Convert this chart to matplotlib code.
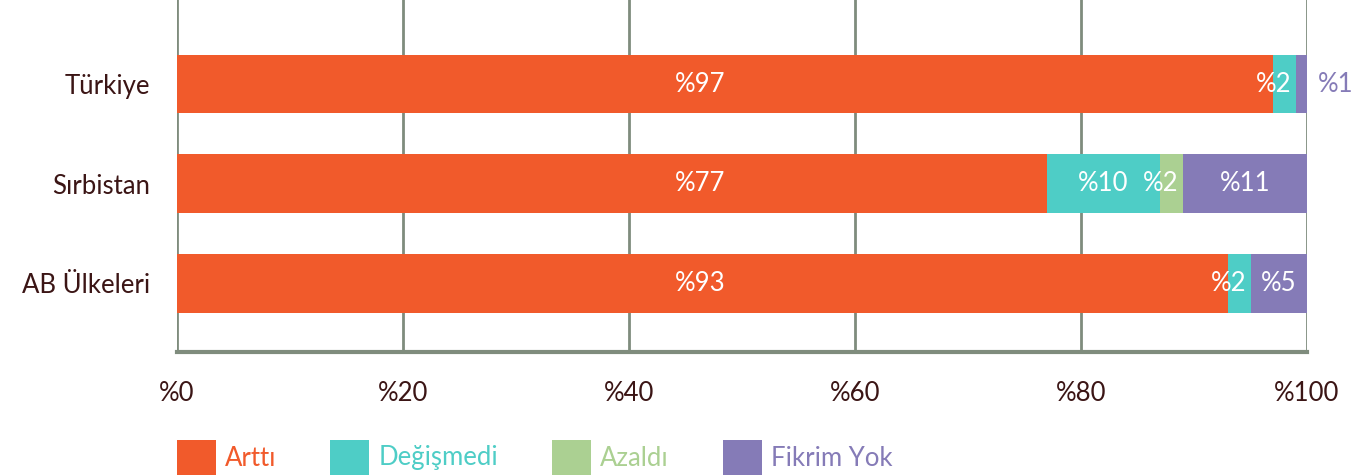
import matplotlib.pyplot as plt
from matplotlib.patches import Rectangle
import numpy as np

plt.rcParams["font.family"] = ["Lato", "DejaVu Sans"]

countries = ["Türkiye", "Sırbistan", "AB Ülkeleri"]
series = ["Arttı", "Değişmedi", "Azaldı", "Fikrim Yok"]
arttı = [97, 77, 93]
degismedi = [2, 10, 2]
azaldi = [0, 2, 0]
fikrim_yok = [1, 11, 5]
tick_vals = [0, 20, 40, 60, 80, 100]
tick_labels = ["%0", "%20", "%40", "%60", "%80", "%100"]

colors = ["#F15A2B", "#4ECDC6", "#ABD092", "#857BB7"]
text_dark = "#3B1515"
grid_col = "#7F8C7D"
FS = 18.5
W, H = 1365, 475

values = [arttı, degismedi, azaldi, fikrim_yok]

fig = plt.figure(figsize=(W / 100, H / 100), dpi=100)
ax = fig.add_axes([177 / W, 1 - 352 / H, 1130 / W, 352 / H])

y = np.arange(len(countries))
left = np.zeros(len(countries))
for k, (name, vals, col) in enumerate(zip(series, values, colors)):
    vals = np.array(vals, dtype=float)
    ax.barh(y, vals, left=left, height=0.59, color=col, zorder=3, label=name)
    for yi, l, v in zip(y, left, vals):
        if v == 0:
            continue
        if k == 0:
            # first-segment labels sit at one common x in the source
            ax.text(46.3, yi, f"%{int(v)}", ha="center", va="center",
                    color="white", fontsize=FS, zorder=4)
        elif v >= 3:
            ax.text(l + v / 2, yi, f"%{int(v)}", ha="center", va="center",
                    color="white", fontsize=FS, zorder=4)
        elif v >= 2:
            ax.text(l + v - 0.4, yi, f"%{int(v)}", ha="right", va="center",
                    color="white", fontsize=FS, zorder=4)
        else:
            ax.text(102.5, yi, f"%{int(v)}", ha="center", va="center",
                    color=col, fontsize=FS, zorder=4)
    left += vals

ax.set_xlim(0, 100)
ax.set_ylim(2.69, -0.844)
ax.set_yticks(y)
ax.set_yticklabels(countries, fontsize=FS, color=text_dark)
ax.set_xticks(tick_vals)
ax.set_xticklabels(tick_labels, fontsize=FS, color=text_dark)
ax.tick_params(axis="both", length=0)
ax.tick_params(axis="y", pad=19)
ax.tick_params(axis="x", pad=21)

for x in tick_vals:
    ax.axvline(x, color=grid_col, lw=2, zorder=1)
for s in ["top", "right", "left"]:
    ax.spines[s].set_visible(False)
ax.spines["bottom"].set_color(grid_col)
ax.spines["bottom"].set_linewidth(3)

# legend drawn by hand: square, label, fixed gap
renderer = fig.canvas.get_renderer()
x0 = 177
for name, col in zip(series, colors):
    fig.add_artist(Rectangle((x0 / W, 1 - 480 / H), 39 / W, 40 / H,
                             transform=fig.transFigure, color=col, lw=0))
    t = fig.text((x0 + 48) / W, 1 - 458 / H, name, color=col, fontsize=FS,
                 ha="left", va="center")
    tw = t.get_window_extent(renderer).width
    x0 = x0 + 48 + tw + 54

fig.savefig("out.png", dpi=100)
